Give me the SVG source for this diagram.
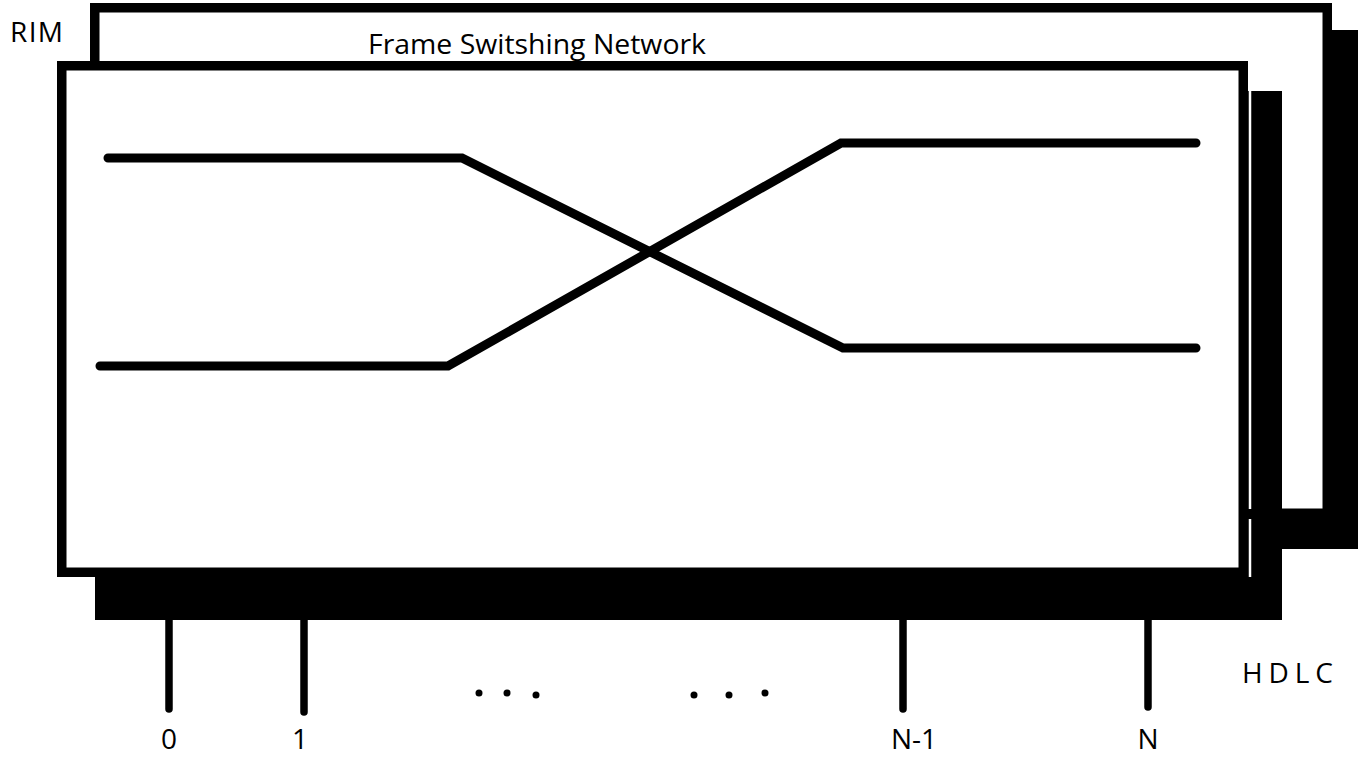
<svg xmlns="http://www.w3.org/2000/svg" width="1358" height="758" viewBox="0 0 1358 758">
<style>
.box{fill:#fff;stroke:#000;stroke-width:9.5}
.shadow{fill:#000}
.wire{fill:none;stroke:#000;stroke-width:9;stroke-linecap:round;stroke-linejoin:miter}
.port{stroke:#000;stroke-width:7.5;stroke-linecap:round}
.lbl{font-family:"Open Sans","Liberation Sans",sans-serif;font-size:28px;fill:#000}
</style>
<rect width="1358" height="758" fill="#fff"/>
<g id="rim">
  <rect class="shadow" x="118" y="30" width="1242" height="519"/>
  <rect class="box" x="94.75" y="7.75" width="1232.5" height="505.5"/>
  <text class="lbl" x="10" y="42" textLength="53">RIM</text>
  <text class="lbl" x="368" y="54" textLength="338" lengthAdjust="spacingAndGlyphs">Frame Switshing Network</text>
</g>
<g id="frame-switching-network">
  <rect class="shadow" x="95" y="91" width="1187" height="529"/>
  <line x1="1250" y1="91" x2="1250" y2="509" stroke="#fff" stroke-width="2.5"/>
  <line x1="1250" y1="519" x2="1250" y2="577" stroke="#fff" stroke-width="2.5"/>
  <rect class="box" x="61.75" y="65.75" width="1181.5" height="506.5"/>
</g>
<g id="connectors">
  <polyline class="wire" points="108,158 462,158 843,348 1196,348"/>
  <polyline class="wire" points="100,366 448,366 841,143 1196,143"/>
</g>
<g id="ports">
  <line class="port" x1="169" y1="620" x2="169" y2="709"/>
  <line class="port" x1="304" y1="620" x2="304" y2="712"/>
  <line class="port" x1="903" y1="620" x2="903" y2="709"/>
  <line class="port" x1="1148" y1="620" x2="1148" y2="707"/>
  <g fill="#000">
    <circle cx="479" cy="693" r="3.5"/>
    <circle cx="507" cy="693" r="3.5"/>
    <circle cx="536" cy="695" r="3.5"/>
    <circle cx="694" cy="695" r="3.5"/>
    <circle cx="729" cy="695" r="3.5"/>
    <circle cx="765" cy="693" r="3.5"/>
  </g>
  <text class="lbl" x="169" y="749" text-anchor="middle">0</text>
  <text class="lbl" x="300" y="749" text-anchor="middle">1</text>
  <text class="lbl" x="914" y="749" text-anchor="middle">N-1</text>
  <text class="lbl" x="1148" y="749" text-anchor="middle">N</text>
  <text class="lbl" x="1242" y="683" textLength="91">HDLC</text>
</g>
</svg>
